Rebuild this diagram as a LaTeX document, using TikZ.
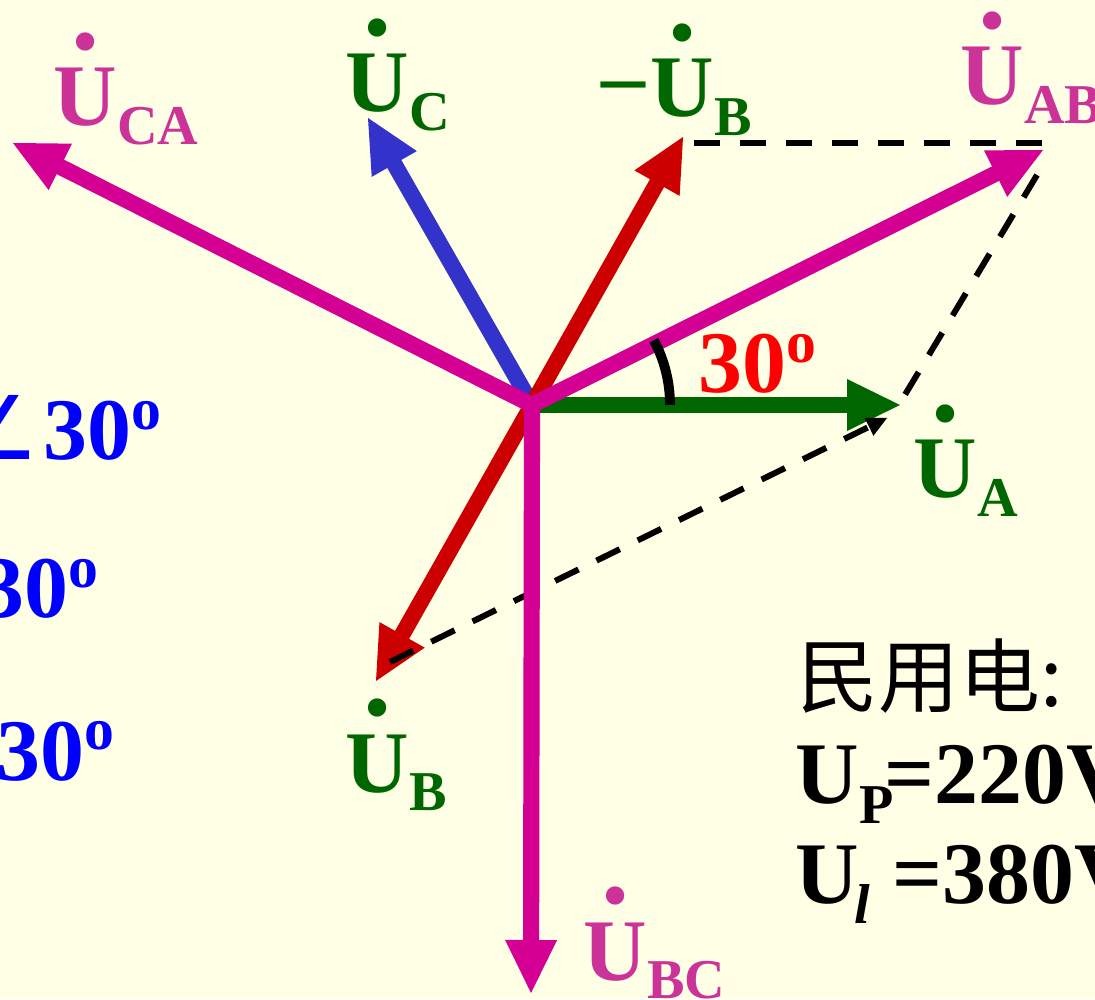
\documentclass[tikz,border=0pt]{standalone}
\usepackage{fontspec}
\setmainfont{Liberation Serif}
\newfontfamily\cjkfont{Noto Sans CJK SC}
\newfontfamily\symbfont{DejaVu Sans}
\usetikzlibrary{arrows.meta}

\definecolor{bgyellow}{RGB}{255,255,229}
\definecolor{phgreen}{RGB}{0,102,0}
\definecolor{phmag}{RGB}{212,0,148}
\definecolor{lblmag}{RGB}{204,51,153}
\definecolor{phblue}{RGB}{51,51,204}
\definecolor{phred}{RGB}{204,0,0}

\newcommand{\fasor}[1]{\makebox[0pt][l]{\hspace{5pt}\smash{\raisebox{21.9pt}{\fontsize{32}{32}\selectfont .}}}U\raisebox{-0.21em}{\fontsize{16}{16}\selectfont #1}}
\newcommand{\gradsup}{\raisebox{0.35em}{\fontsize{17}{17}\selectfont o}}
\newcommand{\subidx}[1]{\raisebox{-0.23em}{\fontsize{16}{16}\selectfont #1}}

\begin{document}
\begin{tikzpicture}[x=1cm,y=1cm,line cap=round,line join=round,
    fasorline/.style={line width=4.6pt,-{Triangle[length=0.53cm,width=0.52cm,line width=0pt]}},
    guide/.style={black,line width=1.7pt,line cap=butt,dash pattern=on 0.26cm off 0.2cm},
    lbl/.style={anchor=base west,inner sep=0pt,font=\fontsize{25}{30}\selectfont\bfseries}]
        \clip (0,0) rectangle (10.95,9.99);
        \fill[bgyellow] (0,0) rectangle (10.95,9.99);

        % Origen y extremos de los fasores
        \coordinate (O) at (5.32,5.94);
        \coordinate (tA) at (9.00,5.94);
        \coordinate (tC) at (3.68,8.81);
        \coordinate (tmB) at (6.83,8.62);
        \coordinate (tB) at (3.76,3.18);
        \coordinate (tAB) at (10.43,8.49);
        \coordinate (tCA) at (0.13,8.56);
        \coordinate (tBC) at (5.31,0.06);

        % Tensiones de fase
        \draw[fasorline,phblue] (O) -- (tC);
        \draw[fasorline,phred] (O) -- (tmB);
        \draw[fasorline,phred] (O) -- (tB);
        \draw[fasorline,phgreen] (O) -- (tA);

        % Construccion del paralelogramo
        \coordinate (g1) at (6.94,8.56);
        \coordinate (g2) at (10.44,8.56);
        \coordinate (g3) at (10.37,8.24);
        \coordinate (g4) at (9.03,6.01);
        \coordinate (g5) at (3.90,3.37);
        \coordinate (g6) at (8.87,5.81);
        \draw[guide] (g1) -- (g2);
        \draw[guide] (g3) -- (g4);
        \draw[guide,-{Triangle[length=0.2cm,width=0.2cm,line width=0pt]}]
            (g5) -- (g6);

        % Tensiones de linea
        \draw[fasorline,phmag] (O) -- (tAB);
        \draw[fasorline,phmag] (O) -- (tCA);
        \draw[fasorline,phmag] (O) -- (tBC);

        % Angulo entre U_AB y U_A
        \draw[line width=2.8pt,line cap=butt] (O) ++(0:1.38)
            arc[start angle=0,end angle=28,radius=1.38];
        \node[lbl,red] (ang) at (6.98,6.06) {30\gradsup};

        % Nombres de los fasores
        \node[lbl,phgreen] (labA) at (9.13,5.01) {\fasor{A}};
        \node[lbl,phgreen] (labC) at (3.45,8.87) {\fasor{C}};
        \node[lbl,phgreen] (labmB) at (6.50,8.82)
            {\llap{\raisebox{0.13em}{–}\hspace{0.06em}}\fasor{B}};
        \node[lbl,phgreen] (labB) at (3.45,2.07) {\fasor{B}};
        \node[lbl,lblmag] (labAB) at (9.60,8.94) {\fasor{AB}};
        \node[lbl,lblmag] (labCA) at (0.53,8.73) {\fasor{CA}};
        \node[lbl,lblmag] (labBC) at (5.83,0.19) {\fasor{BC}};

        % Relaciones a la izquierda (cortadas por el borde)
        \node[lbl,blue] (cond1) at (0.43,5.39)
            {\llap{{\symbfont\mdseries ∠}\hspace{0.05em}}30\gradsup};
        \node[lbl,blue] (cond2) at (-0.20,3.81) {30\gradsup};
        \node[lbl,blue] (cond3) at (-0.04,2.19) {30\gradsup};

        % Valores de la red domestica
        \node[anchor=base west,inner sep=0pt,
            font=\cjkfont\fontsize{23}{28}\selectfont] (civil) at (7.97,2.93) {民用电:};
        \node[lbl] (uphase) at (7.95,1.96)
            {U\subidx{P}\kern-0.1em=220V};
        \node[lbl] (uline) at (7.95,0.96)
            {U\kern-0.05em\subidx{\textit{l}} =380V};
    \end{tikzpicture}
\end{document}
